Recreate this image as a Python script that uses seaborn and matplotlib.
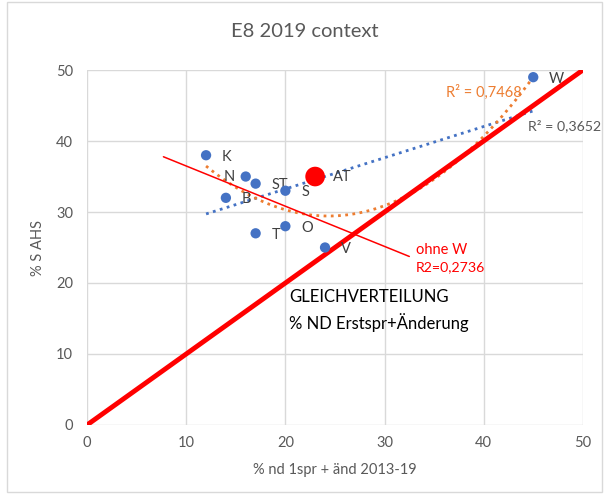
import numpy as np
import pandas as pd
import seaborn as sns
import matplotlib.pyplot as plt

# regions (blue points)
labels = ["K", "N", "ST", "B", "S", "T", "O", "V", "W"]
x_vals = [12, 16, 17, 14, 20, 17, 20, 24, 45]
y_vals = [38, 35, 34, 32, 33, 27, 28, 25, 49]

# Austria total (red point)
at_x = [23]
at_y = [35]

# x range of the "ohne W" trendline (extended forecast)
ohne_w_range = [7.7, 32.5]

# equal distribution line
diag = [0, 50]

df = pd.DataFrame({"x": x_vals, "y": y_vals, "label": labels})

sns.set_style("white")
plt.rcParams["font.family"] = ["Lato", "DejaVu Sans"]

fig = plt.figure(figsize=(6.09, 4.97), dpi=100)
ax = fig.add_axes([0.143, 0.145, 0.814, 0.714])

grid_c = "#d9d9d9"
for v in range(0, 51, 10):
    ax.axvline(v, color=grid_c, lw=1, zorder=0)
    ax.axhline(v, color=grid_c, lw=1, zorder=0)

# trendlines fitted on all points incl. AT
all_x = np.array(x_vals + at_x)
all_y = np.array(y_vals + at_y)
xs = np.linspace(all_x.min(), all_x.max(), 200)
lin = np.polyfit(all_x, all_y, 1)
ax.plot(xs, np.polyval(lin, xs), color="#4472c4", lw=2, ls=(0, (1, 1.6)), zorder=2)
poly = np.polyfit(all_x, all_y, 2)
ax.plot(xs, np.polyval(poly, xs), color="#ed7d31", lw=2, ls=(0, (1, 1.6)), zorder=2)

# linear fit without W
keep = np.array(labels + ["AT"]) != "W"
lin_nw = np.polyfit(all_x[keep], all_y[keep], 1)
ax.plot(ohne_w_range, np.polyval(lin_nw, ohne_w_range), color="#ff0000", lw=1.1, zorder=3)

ax.plot(diag, diag, color="#ff0000", lw=3.5, zorder=3, solid_capstyle="butt")

sns.scatterplot(data=df, x="x", y="y", color="#4472c4", s=55, edgecolor="none",
                ax=ax, zorder=4)
sns.scatterplot(x=at_x, y=at_y, color="#ff0000", s=200, edgecolor="none",
                ax=ax, zorder=5)

lab_c = "#404040"
for lab, xv, yv in zip(labels, x_vals, y_vals):
    if lab == "N":
        ax.text(xv - 2.2, yv, lab, color=lab_c, fontsize=10.5, va="center")
    else:
        ax.text(xv + 1.6, yv - 0.2, lab, color=lab_c, fontsize=10.5, va="center")
ax.text(at_x[0] + 1.8, at_y[0], "AT", color=lab_c, fontsize=10.5, va="center")

ax.text(36.2, 46.8, "R² = 0,7468", color="#ed7d31", fontsize=10.5, va="center")
ax.text(44.5, 42.1, "R² = 0,3652", color="#595959", fontsize=10.2, va="center")
ax.text(33.2, 24.6, "ohne W", color="#ff0000", fontsize=10.5, va="center")
ax.text(33.2, 22.2, "R2=0,2736", color="#ff0000", fontsize=10.2, va="center")
ax.text(20.4, 18.0, "GLEICHVERTEILUNG", color="black", fontsize=12, va="center")
ax.text(20.4, 14.4, "% ND Erstspr+Änderung", color="black", fontsize=12, va="center")

ax.set_xlim(0, 50)
ax.set_ylim(0, 50)
ax.set_xticks(range(0, 51, 10))
ax.set_yticks(range(0, 51, 10))
ax.tick_params(colors="#595959", labelsize=10.5, length=0)
ax.tick_params(axis="x", pad=8)
ax.tick_params(axis="y", pad=10)
for s in ax.spines.values():
    s.set_visible(False)
ax.set_xlabel("% nd 1spr + änd 2013-19", color="#595959", fontsize=10.5, labelpad=9)
ax.set_ylabel("% S AHS", color="#595959", fontsize=10.5, labelpad=8)
fig.text(0.5, 0.936, "E8 2019 context", color="#595959", fontsize=14.5,
         ha="center", va="center")

fig.patches.append(plt.Rectangle((0.012, 0.01), 0.976, 0.985, transform=fig.transFigure,
                                 fill=False, edgecolor="#d9d9d9", lw=1))

fig.savefig("out.png", dpi=100)
